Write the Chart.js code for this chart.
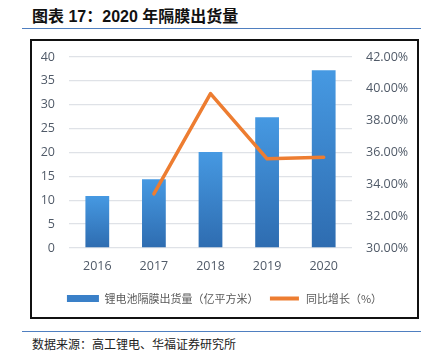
<!DOCTYPE html>
<html lang="zh">
<head>
    <meta charset="UTF-8">
    <title>2020 年隔膜出货量</title>
    <script src="https://cdn.jsdelivr.net/npm/chart.js@4.4.1/dist/chart.umd.min.js"></script>
    <style>
        body { margin: 0; width: 430px; height: 359px; background: #fff; position: relative; overflow: hidden; }
        #title { position: absolute; left: 32px; top: 3px; font: bold 16px "Liberation Sans", "Noto Sans CJK SC", sans-serif; color: #111; }
        .rule { position: absolute; left: 22px; width: 399px; height: 1px; background: #4f7fc0; }
        #frame { position: absolute; left: 30px; top: 39px; width: 389px; height: 280px; border: 2px solid #111; box-sizing: border-box; }
        #chart_wrap { position: absolute; left: 32px; top: 41px; width: 385px; height: 276px; }
        #source { position: absolute; left: 32px; top: 335px; font: 12px "Noto Sans CJK SC", sans-serif; color: #222; }
    </style>
</head>
<body>
    <div id="title">图表 17：2020 年隔膜出货量</div>
    <div class="rule" style="top:28px"></div>
    <div id="frame"></div>
    <div id="chart_wrap"><canvas id="chart_area"></canvas></div>
    <div class="rule" style="top:331px"></div>
    <div id="source">数据来源：高工锂电、华福证券研究所</div>
    <script>
        // values
        const years = ['2016', '2017', '2018', '2019', '2020'];
        const shipments = [10.9, 14.4, 20.1, 27.4, 37.2];
        const growth = [null, 33.4, 39.7, 35.6, 35.7];
        const bar_label = '锂电池隔膜出货量（亿平方米）';
        const line_label = '同比增长（%）';

        const tick_color = '#505a68';
        const tick_font = { family: 'Open Sans', size: 12.5 };

        function bar_fill(ctx) {
            const chart = ctx.chart;
            const y = chart.scales && chart.scales.y;
            if (!chart.chartArea || !y || ctx.raw == null) return '#3a85d0';
            const top = y.getPixelForValue(ctx.raw);
            const bottom = y.getPixelForValue(0);
            const g = chart.ctx.createLinearGradient(0, top, 0, bottom);
            g.addColorStop(0, '#4699e2');
            g.addColorStop(1, '#2e6cb0');
            return g;
        }

        // keep the side axes from pushing the plot down (tick padding counts otherwise)
        function side_axis(width) {
            return s => {
                s.width = width;
                s.paddingTop = 7;
                s.paddingBottom = 7;
            };
        }

        const config = {
            data: {
                labels: years,
                datasets: [{
                    type: 'bar',
                    label: bar_label,
                    data: shipments,
                    backgroundColor: bar_fill,
                    borderWidth: 0,
                    barPercentage: 0.42,
                    categoryPercentage: 1,
                    yAxisID: 'y',
                    order: 1
                }, {
                    type: 'line',
                    label: line_label,
                    data: growth,
                    borderColor: '#ed7d31',
                    backgroundColor: '#ed7d31',
                    borderWidth: 3.5,
                    borderCapStyle: 'round',
                    borderJoinStyle: 'round',
                    pointRadius: 0,
                    tension: 0,
                    yAxisID: 'y1',
                    order: 0
                }]
            },
            options: {
                responsive: true,
                maintainAspectRatio: false,
                animation: false,
                layout: { padding: { top: 16, bottom: 3, left: 0, right: 0 } },
                plugins: {
                    tooltip: { enabled: false },
                    legend: {
                        position: 'bottom',
                        labels: {
                            sort: (a, b) => a.datasetIndex - b.datasetIndex,
                            boxWidth: 32,
                            boxHeight: 7,
                            padding: 10,
                            color: '#595959',
                            font: { family: 'Noto Sans CJK SC', size: 11 },
                            generateLabels: chart => {
                                const items = Chart.defaults.plugins.legend.labels.generateLabels(chart);
                                items.forEach(it => {
                                    if (it.datasetIndex === 1) {
                                        // thinner orange stroke like the original legend
                                        it.fillStyle = '#ed7d31';
                                        it.strokeStyle = '#ffffff';
                                        it.lineWidth = 3;
                                    } else {
                                        it.fillStyle = '#3a80c8';
                                        it.lineWidth = 0;
                                    }
                                });
                                return items;
                            }
                        }
                    }
                },
                scales: {
                    x: {
                        grid: { display: false },
                        border: { display: false },
                        ticks: { color: tick_color, font: tick_font, padding: 3 },
                        afterFit: s => { s.height = 35; }
                    },
                    y: {
                        position: 'left',
                        min: 0, max: 40,
                        ticks: { stepSize: 5, color: tick_color, font: tick_font, padding: 14 },
                        grid: { color: '#dfe2e7', lineWidth: 1.3, drawTicks: false },
                        border: { display: false },
                        afterFit: side_axis(37)
                    },
                    y1: {
                        position: 'right',
                        min: 30, max: 42,
                        ticks: {
                            stepSize: 2, color: tick_color, font: tick_font, padding: 14,
                            callback: v => v.toFixed(2) + '%'
                        },
                        grid: { display: false, drawTicks: false },
                        border: { display: false },
                        afterFit: side_axis(65)
                    }
                }
            }
        };

        new Chart(document.getElementById('chart_area').getContext('2d'), config);
    </script>
</body>
</html>
